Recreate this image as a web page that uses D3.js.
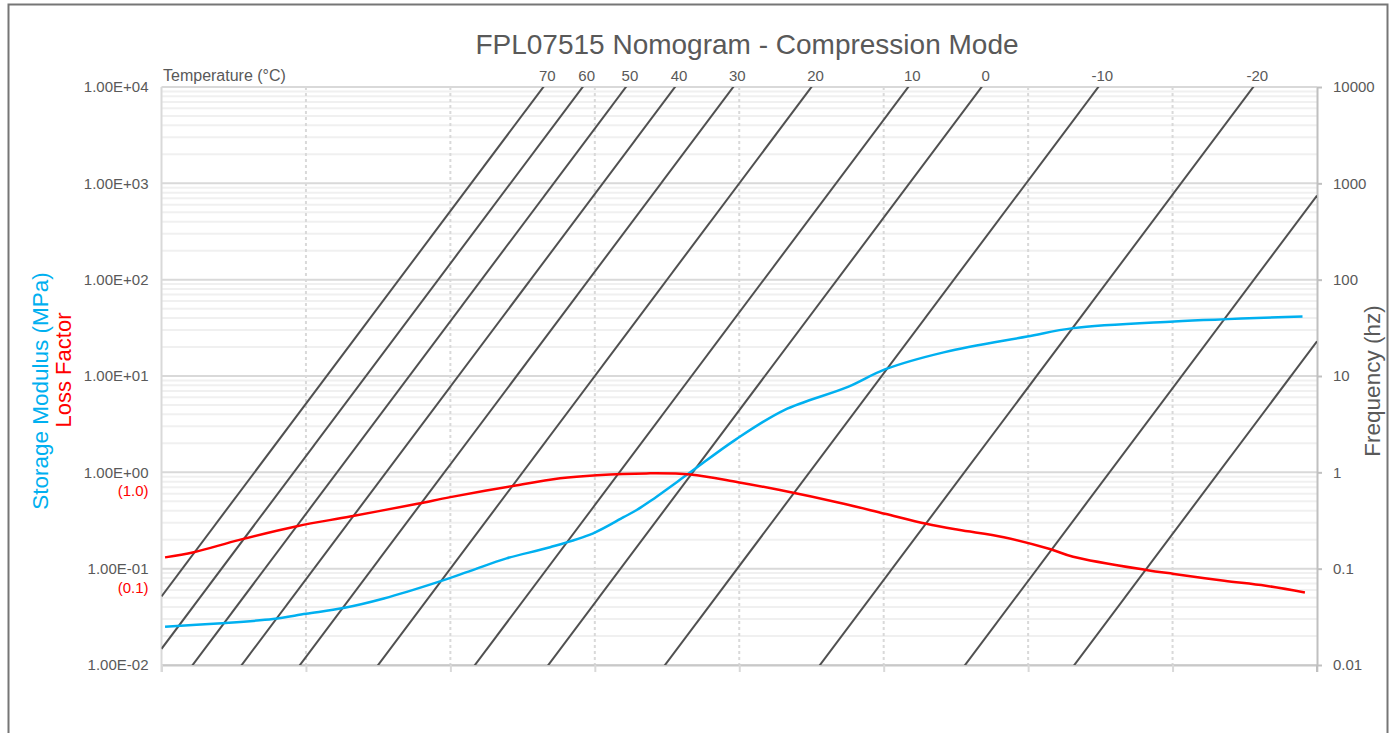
<!DOCTYPE html>
<html>
<head>
<meta charset="utf-8">
<script src="https://cdn.jsdelivr.net/npm/d3@7"></script>
<style>
  body { margin: 0; background: #fff; }
  svg { font-family: "Liberation Sans", Arial, sans-serif; }
</style>
</head>
<body>
<div id="container"></div>
<script>
// Isotherms: temperature (°C) and shift factor aT (reduced freq = freq * aT)
const temps = [70, 60, 50, 40, 30, 20, 10, 0, -10, -20, -30, -40];
const shiftFactors = [1.94e-4, 6.79e-4, 2.70e-3, 1.29e-2, 8.26e-2, 1, 21.9, 227, 9.38e3, 1.31e6, 1.34e8, 4.36e9];

// Storage modulus (MPa) vs reduced frequency
const storageFreq = [1.12e-5, 6e-5, 3.5e-4, 1.0e-3, 3.3e-3, 1.2e-2, 6.5e-2, 0.19, 0.6, 2.4, 9.5, 25, 38, 58, 210, 870, 4200, 3.2e4, 1.04e5, 7e5, 9.7e6, 4.2e7, 1.05e9, 6.3e10];
const storageModulus = [0.025, 0.027, 0.030, 0.034, 0.039, 0.049, 0.072, 0.095, 0.128, 0.167, 0.233, 0.342, 0.406, 0.5, 1.0, 2.16, 4.43, 7.7, 11.7, 17.7, 25.7, 31.4, 36.8, 41.5];

// Loss factor vs reduced frequency
const lossFreq = [1.12e-5, 2.8e-5, 1.2e-4, 7.5e-4, 4.1e-3, 3.5e-2, 0.1, 0.68, 3.3, 10.7, 52, 210, 960, 3660, 2.8e4, 1.04e5, 3.9e5, 1.08e6, 4.6e6, 2.0e7, 4.2e7, 4.3e8, 1.05e9, 5.2e9, 1.95e10, 6.8e10];
const lossFactor = [0.131, 0.148, 0.199, 0.276, 0.348, 0.472, 0.553, 0.715, 0.867, 0.935, 0.975, 0.95, 0.79, 0.655, 0.472, 0.371, 0.292, 0.253, 0.212, 0.160, 0.133, 0.0969, 0.0881, 0.075, 0.0665, 0.0567];

// Axis ticks
const leftTicks = [1e-2, 1e-1, 1e0, 1e1, 1e2, 1e3, 1e4];
const lossTicks = [1, 0.1];
const lossTickLabels = ["(1.0)", "(0.1)"];
const freqTicks = [0.01, 0.1, 1, 10, 100, 1000, 10000];
const freqTickLabels = ["0.01", "0.1", "1", "10", "100", "1000", "10000"];
const reducedGrid = [1e-5, 1e-3, 1e-1, 1e1, 1e3, 1e5, 1e7, 1e9, 1e11];

const chartW = 1392, chartH = 733;
const plotL = 161.5, plotR = 1317, plotT = 87, plotB = 665;
const grey = "#595959";

const svg = d3.select("#container").append("svg")
  .attr("width", chartW).attr("height", chartH);

svg.append("rect").attr("width", chartW).attr("height", chartH).attr("fill", "#fff");
// outer chart border
svg.append("rect")
  .attr("x", 8.5).attr("y", 4.5).attr("width", 1379).attr("height", 800)
  .attr("fill", "none").attr("stroke", "#767676").attr("stroke-width", 2);

const x = d3.scaleLog().domain([1e-5, 1e11]).range([plotL, plotR]);
const y = d3.scaleLog().domain([1e-2, 1e4]).range([plotB, plotT]);
const yFreq = d3.scaleLog().domain([0.01, 10000]).range([plotB, plotT]);

// minor horizontal gridlines
const minor = [];
for (let e = -2; e < 4; e++) {
  for (let m = 2; m <= 9; m++) minor.push(m * Math.pow(10, e));
}
svg.append("g").selectAll("line").data(minor).enter().append("line")
  .attr("x1", plotL).attr("x2", plotR)
  .attr("y1", d => y(d)).attr("y2", d => y(d))
  .attr("stroke", "#f0f0f0").attr("stroke-width", 2);

// major horizontal gridlines
svg.append("g").selectAll("line").data(leftTicks).enter().append("line")
  .attr("x1", plotL).attr("x2", plotR)
  .attr("y1", d => y(d)).attr("y2", d => y(d))
  .attr("stroke", "#d9d9d9").attr("stroke-width", 2);

// vertical dashed gridlines
svg.append("g").selectAll("line").data(reducedGrid.slice(1, -1)).enter().append("line")
  .attr("x1", d => x(d)).attr("x2", d => x(d))
  .attr("y1", plotT).attr("y2", plotB)
  .attr("stroke", "#d9d9d9").attr("stroke-width", 2)
  .attr("stroke-dasharray", "3,3");

// bottom axis (no labels)
const xAxis = d3.axisBottom(x).tickValues(reducedGrid).tickSize(7).tickFormat("").tickSizeOuter(0);
const gx = svg.append("g").attr("transform", `translate(0,${plotB})`).call(xAxis);
gx.select(".domain").attr("stroke", "#c8c8c8").attr("stroke-width", 2);
gx.selectAll(".tick line").attr("stroke", "#d9d9d9").attr("stroke-width", 2);

// left axis
const fmtE = v => {
  const e = Math.round(Math.log10(v));
  return "1.00E" + (e < 0 ? "-" : "+") + String(Math.abs(e)).padStart(2, "0");
};
const yAxis = d3.axisLeft(y).tickValues(leftTicks).tickSize(0).tickPadding(13).tickFormat(fmtE);
const gy = svg.append("g").attr("transform", `translate(${plotL},0)`).call(yAxis);
gy.select(".domain").remove();
gy.selectAll("text").attr("fill", grey).style("font-size", "15px").style("font-family", "Liberation Sans, Arial");
svg.append("line").attr("x1", plotL).attr("x2", plotL).attr("y1", plotT).attr("y2", plotB + 7)
  .attr("stroke", "#d9d9d9").attr("stroke-width", 2);

// loss factor secondary labels
svg.append("g").selectAll("text").data(lossTicks).enter().append("text")
  .attr("x", plotL - 13).attr("y", d => y(d) + 24)
  .attr("text-anchor", "end").attr("fill", "#ff0000").style("font-size", "15px")
  .text((d, i) => lossTickLabels[i]);

// right axis (frequency)
const rAxis = d3.axisRight(yFreq).tickValues(freqTicks).tickSize(5).tickPadding(11)
  .tickFormat((d, i) => freqTickLabels[i]).tickSizeOuter(0);
const gr = svg.append("g").attr("transform", `translate(${plotR},0)`).call(rAxis);
gr.select(".domain").attr("stroke", "#c0c0c0").attr("stroke-width", 2);
gr.selectAll(".tick line").attr("stroke", "#c0c0c0").attr("stroke-width", 2);
gr.selectAll("text").attr("fill", grey).style("font-size", "15px").style("font-family", "Liberation Sans, Arial");
svg.append("line").attr("x1", plotR).attr("x2", plotR).attr("y1", plotB).attr("y2", plotB + 7)
  .attr("stroke", "#c0c0c0").attr("stroke-width", 2);

// clip for plot
svg.append("clipPath").attr("id", "plot-clip").append("rect")
  .attr("x", plotL).attr("y", plotT).attr("width", plotR - plotL).attr("height", plotB - plotT);

// isotherm lines: freq = reducedFreq / aT
const isoLine = d3.line().x(d => x(d[0])).y(d => yFreq(d[1]));
const iso = temps.map((t, i) => ({
  t: t, aT: shiftFactors[i],
  pts: x.domain().map(fr => [fr, fr / shiftFactors[i]])
}));
svg.append("g").attr("clip-path", "url(#plot-clip)")
  .selectAll("path").data(iso).enter().append("path")
  .attr("d", d => isoLine(d.pts))
  .attr("fill", "none").attr("stroke", "#505050").attr("stroke-width", 2);

// temperature labels at top of each isotherm
svg.append("g").selectAll("text")
  .data(iso.filter(d => x(1e4 * d.aT) <= plotR))
  .enter().append("text")
  .attr("x", d => x(1e4 * d.aT) + 4)
  .attr("y", 81)
  .attr("text-anchor", "middle").attr("fill", grey).style("font-size", "15px")
  .text(d => d.t);

svg.append("text").attr("x", 163).attr("y", 81).attr("fill", grey)
  .style("font-size", "16px").text("Temperature (°C)");

// curves
const curve = d3.line().x(d => x(d[0])).y(d => y(d[1])).curve(d3.curveCatmullRom.alpha(0.5));
const plot = svg.append("g").attr("clip-path", "url(#plot-clip)");
plot.append("path")
  .datum(storageFreq.map((f, i) => [f, storageModulus[i]]))
  .attr("d", curve).attr("fill", "none").attr("stroke", "#00b0f0").attr("stroke-width", 2.5);
plot.append("path")
  .datum(lossFreq.map((f, i) => [f, lossFactor[i]]))
  .attr("d", curve).attr("fill", "none").attr("stroke", "#ff0000").attr("stroke-width", 2.5);

// titles
svg.append("text").attr("x", 747).attr("y", 54).attr("text-anchor", "middle")
  .attr("fill", grey).style("font-size", "28px")
  .text("FPL07515 Nomogram - Compression Mode");

svg.append("text").attr("transform", "translate(48,391) rotate(-90)")
  .attr("text-anchor", "middle").attr("fill", "#00b0f0").style("font-size", "22.5px")
  .text("Storage Modulus (MPa)");
svg.append("text").attr("transform", "translate(71,370) rotate(-90)")
  .attr("text-anchor", "middle").attr("fill", "#ff0000").style("font-size", "22px")
  .text("Loss Factor");

svg.append("text").attr("transform", "translate(1380,381) rotate(-90)")
  .attr("text-anchor", "middle").attr("fill", grey).style("font-size", "22.5px")
  .text("Frequency (hz)");
</script>
</body>
</html>
